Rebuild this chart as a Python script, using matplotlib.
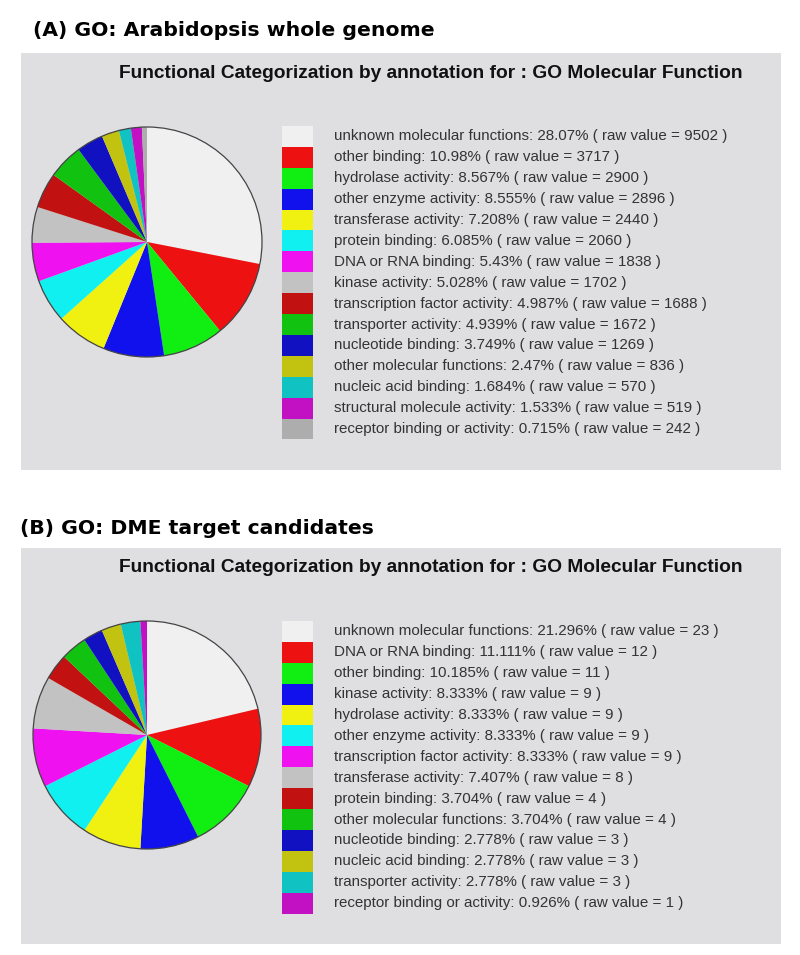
import matplotlib
matplotlib.use("Agg")
import matplotlib.pyplot as plt
from matplotlib.patches import Rectangle, Circle

# ---------------- data ----------------
titles = ["(A) GO: Arabidopsis whole genome", "(B) GO: DME target candidates"]
subtitle = "Functional Categorization by annotation for : GO Molecular Function"

cats_a = ["unknown molecular functions", "other binding", "hydrolase activity",
          "other enzyme activity", "transferase activity", "protein binding",
          "DNA or RNA binding", "kinase activity", "transcription factor activity",
          "transporter activity", "nucleotide binding", "other molecular functions",
          "nucleic acid binding", "structural molecule activity",
          "receptor binding or activity"]
pct_a = ["28.07", "10.98", "8.567", "8.555", "7.208", "6.085", "5.43", "5.028",
         "4.987", "4.939", "3.749", "2.47", "1.684", "1.533", "0.715"]
raw_a = [9502, 3717, 2900, 2896, 2440, 2060, 1838, 1702, 1688, 1672, 1269, 836,
         570, 519, 242]

cats_b = ["unknown molecular functions", "DNA or RNA binding", "other binding",
          "kinase activity", "hydrolase activity", "other enzyme activity",
          "transcription factor activity", "transferase activity", "protein binding",
          "other molecular functions", "nucleotide binding", "nucleic acid binding",
          "transporter activity", "receptor binding or activity"]
pct_b = ["21.296", "11.111", "10.185", "8.333", "8.333", "8.333", "8.333", "7.407",
         "3.704", "3.704", "2.778", "2.778", "2.778", "0.926"]
raw_b = [23, 12, 11, 9, 9, 9, 9, 8, 4, 4, 3, 3, 3, 1]

palette = ["#F0F0F0", "#EE1111", "#11EE11", "#1111EE", "#F0F011", "#11F0F0",
           "#F011F0", "#C2C2C2", "#C21111", "#11C211", "#1111C2", "#C2C211",
           "#11C2C2", "#C211C2", "#ADADAD"]

# ---------------- layout ----------------
W, H = 800, 955
fig = plt.figure(figsize=(W / 100, H / 100), dpi=100)
ax = fig.add_axes([0, 0, 1, 1])
ax.set_xlim(0, W)
ax.set_ylim(0, H)
ax.axis("off")

def Y(y):
    return H - y

panels = [
    dict(title_x=33, title_y=31, box=(21, 53, 781, 470), sub_y=74,
         pie=(147, 242, 115), leg_top=126, cats=cats_a, pct=pct_a, raw=raw_a),
    dict(title_x=20, title_y=528, box=(21, 548, 781, 944), sub_y=568,
         pie=(147, 735, 114), leg_top=621, cats=cats_b, pct=pct_b, raw=raw_b),
]

title_font = dict(family=["DejaVu Sans"], fontweight="bold", fontsize=14.7)
sub_font = dict(family=["Liberation Sans", "DejaVu Sans"],
                fontweight="bold", fontsize=13.8)
leg_font = dict(family=["Liberation Sans", "DejaVu Sans"], fontsize=10.9,
                color="#333333")

for i, p in enumerate(panels):
    ax.text(p["title_x"], Y(p["title_y"]), titles[i], ha="left", va="center",
            **title_font)
    x0, y0, x1, y1 = p["box"]
    ax.add_patch(Rectangle((x0, Y(y1)), x1 - x0, y1 - y0, facecolor="#DFDFE1",
                           edgecolor="none", zorder=0))
    ax.text(431, Y(p["sub_y"]), subtitle, ha="center", va="center",
            color="#111111", **sub_font)
    cx, cy, r = p["pie"]
    vals = p["raw"]
    n = len(vals)
    ax.pie(vals, colors=palette[:n], startangle=90, counterclock=False,
           center=(cx, Y(cy)), radius=r,
           wedgeprops=dict(linewidth=0, antialiased=True), frame=True)
    ax.add_patch(Circle((cx, Y(cy)), r, facecolor="none", edgecolor="#444444",
                        linewidth=0.9, zorder=5))
    row = 20.9
    for k in range(n):
        top = p["leg_top"] + k * row
        ax.add_patch(Rectangle((282, Y(top + row)), 31, row,
                               facecolor=palette[k], edgecolor="none"))
        label = f"{p['cats'][k]}: {p['pct'][k]}% ( raw value = {p['raw'][k]} )"
        ax.text(334, Y(top + row / 2), label, ha="left", va="center", **leg_font)

ax.set_xlim(0, W)
ax.set_ylim(0, H)
ax.set_aspect("auto")
ax.axis("off")
fig.savefig("out.png", dpi=100, facecolor="white")
